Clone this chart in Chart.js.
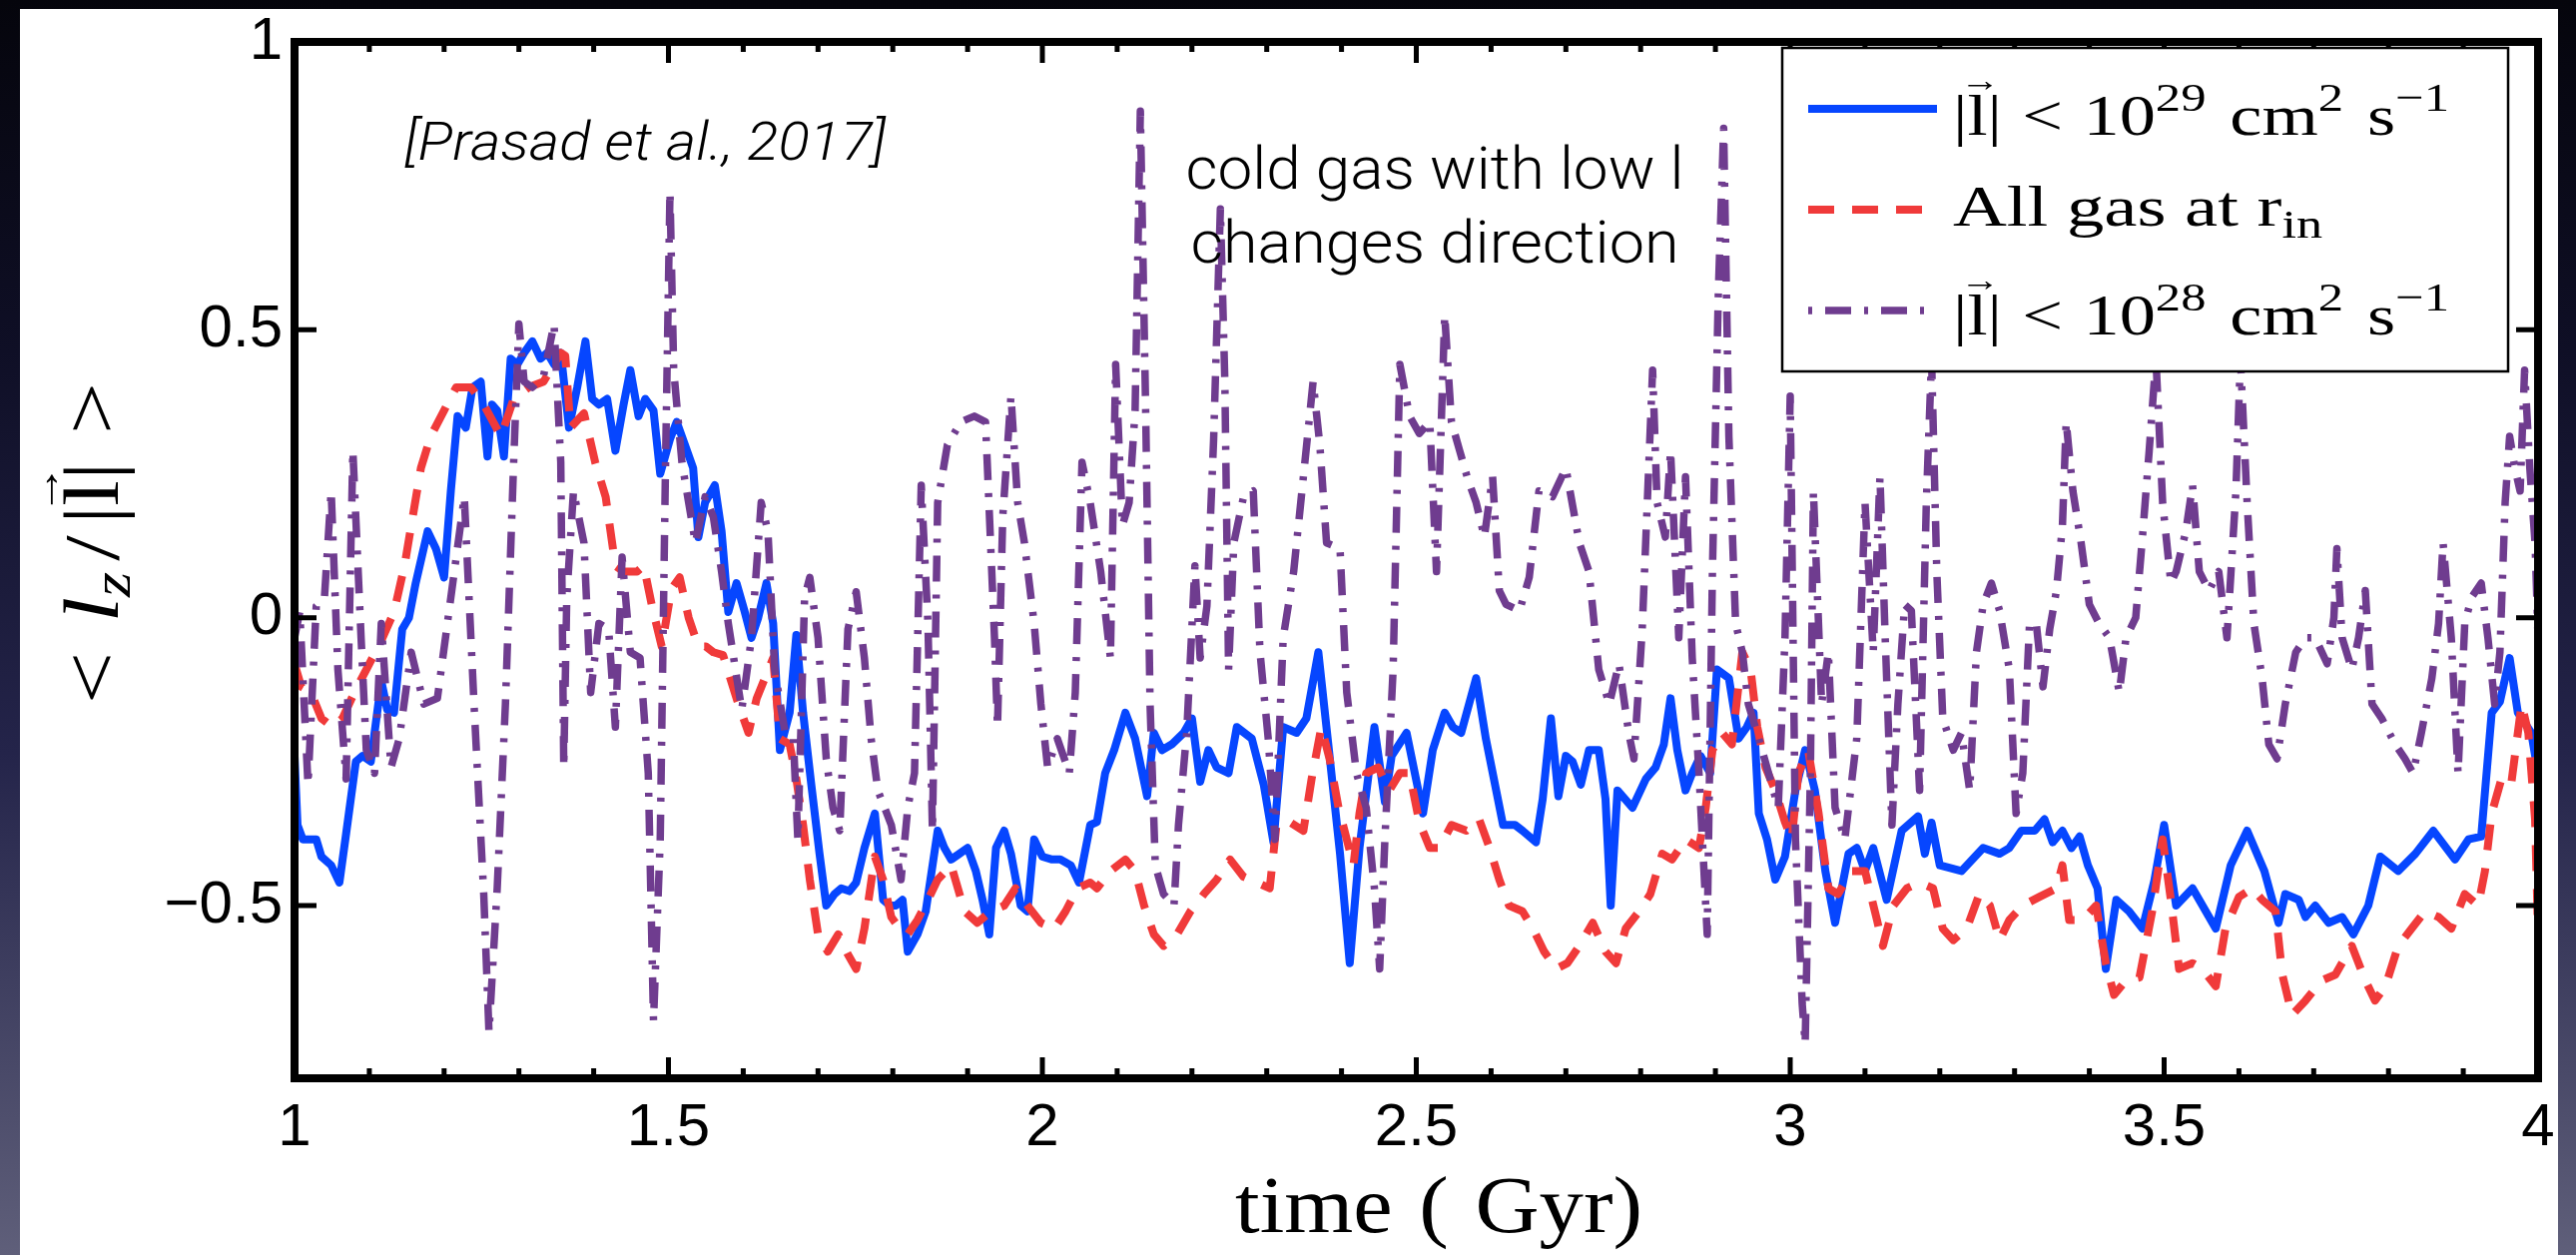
<!DOCTYPE html>
<html>
<head>
<meta charset="utf-8">
<title>Angular momentum orientation of inflowing gas</title>
<script src="https://cdn.jsdelivr.net/npm/chart.js@4.4.1/dist/chart.umd.min.js"></script>
<style>
  html, body { margin: 0; padding: 0; width: 2580px; height: 1257px; overflow: hidden; }
  body {
    position: relative;
    background: linear-gradient(180deg, #05050c 0%, #0f0f26 28%, #24244a 60%, #5f5f7a 100%);
  }
  #panel { position: absolute; left: 20px; top: 9px; width: 2542px; height: 1248px; background: #ffffff; }
  #chart { position: absolute; left: 0; top: 0; }
</style>
</head>
<body>
<div id="panel"></div>
<canvas id="chart" width="2580" height="1257" style="width:2580px;height:1257px"></canvas>
<script>
// ---- axis ranges and tick labels ----
const xMin = 1, xMax = 4, xMinorStep = 0.1;
const yMin = -0.8, yMax = 1;
const xTickValues = [1, 1.5, 2, 2.5, 3, 3.5, 4];
const xTickLabels = ['1', '1.5', '2', '2.5', '3', '3.5', '4'];
const yTickValues = [-0.5, 0, 0.5, 1];
const yTickLabels = ['\u22120.5', '0', '0.5', '1'];

// ---- <l_z/|l|> against time (Gyr), [time, value] ----
// gas with |l| < 1e29 cm^2 s^-1
const lowL29 = [
  [1.000,-0.24],[1.004,-0.36],[1.011,-0.385],[1.029,-0.385],[1.036,-0.415],[1.049,-0.43],[1.060,-0.46],[1.069,-0.375],
  [1.082,-0.25],[1.091,-0.24],[1.102,-0.25],[1.116,-0.11],[1.124,-0.16],[1.133,-0.165],[1.144,-0.02],[1.153,0.00],
  [1.162,0.06],[1.178,0.15],[1.189,0.12],[1.200,0.07],[1.209,0.22],[1.218,0.35],[1.229,0.33],[1.238,0.40],
  [1.249,0.41],[1.258,0.28],[1.264,0.37],[1.271,0.36],[1.280,0.28],[1.289,0.45],[1.298,0.44],[1.307,0.46],
  [1.318,0.48],[1.329,0.45],[1.338,0.46],[1.347,0.44],[1.356,0.46],[1.367,0.33],[1.378,0.40],[1.389,0.48],
  [1.398,0.38],[1.407,0.37],[1.418,0.38],[1.429,0.29],[1.440,0.37],[1.449,0.43],[1.460,0.35],[1.469,0.38],
  [1.480,0.36],[1.489,0.25],[1.502,0.31],[1.511,0.34],[1.522,0.30],[1.533,0.26],[1.540,0.14],[1.549,0.20],
  [1.562,0.23],[1.571,0.15],[1.580,0.01],[1.591,0.06],[1.602,0.01],[1.611,-0.035],[1.620,0.00],[1.631,0.06],
  [1.640,-0.01],[1.649,-0.23],[1.662,-0.165],[1.671,-0.03],[1.680,-0.165],[1.691,-0.29],[1.702,-0.41],[1.711,-0.50],
  [1.722,-0.48],[1.731,-0.47],[1.742,-0.475],[1.751,-0.46],[1.762,-0.40],[1.776,-0.34],[1.787,-0.49],[1.796,-0.50],
  [1.804,-0.50],[1.813,-0.49],[1.820,-0.58],[1.833,-0.55],[1.844,-0.51],[1.860,-0.37],[1.869,-0.40],[1.878,-0.42],
  [1.889,-0.41],[1.900,-0.40],[1.911,-0.44],[1.920,-0.49],[1.929,-0.55],[1.938,-0.40],[1.949,-0.37],[1.958,-0.41],
  [1.971,-0.50],[1.980,-0.51],[1.989,-0.385],[2.000,-0.415],[2.013,-0.42],[2.024,-0.42],[2.038,-0.43],[2.049,-0.46],
  [2.064,-0.36],[2.073,-0.355],[2.084,-0.27],[2.096,-0.23],[2.111,-0.165],[2.124,-0.21],[2.140,-0.31],[2.149,-0.20],
  [2.160,-0.23],[2.173,-0.22],[2.189,-0.20],[2.200,-0.175],[2.211,-0.285],[2.222,-0.23],[2.233,-0.26],[2.249,-0.27],
  [2.260,-0.19],[2.280,-0.21],[2.296,-0.29],[2.309,-0.39],[2.322,-0.19],[2.340,-0.20],[2.353,-0.175],[2.369,-0.06],
  [2.384,-0.24],[2.398,-0.41],[2.411,-0.60],[2.424,-0.40],[2.444,-0.19],[2.458,-0.32],[2.467,-0.24],[2.487,-0.20],
  [2.509,-0.34],[2.522,-0.23],[2.538,-0.165],[2.549,-0.19],[2.560,-0.20],[2.580,-0.105],[2.593,-0.21],[2.616,-0.36],
  [2.632,-0.36],[2.642,-0.37],[2.660,-0.39],[2.669,-0.315],[2.680,-0.175],[2.690,-0.31],[2.700,-0.24],[2.709,-0.25],
  [2.720,-0.29],[2.731,-0.23],[2.744,-0.23],[2.753,-0.315],[2.760,-0.50],[2.769,-0.30],[2.789,-0.33],[2.807,-0.28],
  [2.820,-0.26],[2.831,-0.22],[2.840,-0.14],[2.849,-0.23],[2.860,-0.30],[2.869,-0.27],[2.880,-0.24],[2.893,-0.27],
  [2.902,-0.09],[2.918,-0.105],[2.931,-0.21],[2.942,-0.19],[2.951,-0.165],[2.958,-0.34],[2.969,-0.385],[2.980,-0.455],
  [2.993,-0.415],[3.007,-0.30],[3.020,-0.23],[3.033,-0.30],[3.047,-0.44],[3.060,-0.53],[3.078,-0.41],[3.089,-0.40],
  [3.100,-0.44],[3.111,-0.40],[3.129,-0.49],[3.149,-0.37],[3.171,-0.345],[3.180,-0.41],[3.189,-0.356],[3.200,-0.43],
  [3.229,-0.44],[3.258,-0.40],[3.280,-0.41],[3.293,-0.40],[3.309,-0.37],[3.327,-0.37],[3.340,-0.35],[3.351,-0.39],
  [3.364,-0.37],[3.376,-0.40],[3.387,-0.38],[3.398,-0.43],[3.411,-0.47],[3.422,-0.61],[3.436,-0.49],[3.453,-0.51],
  [3.471,-0.54],[3.487,-0.456],[3.500,-0.36],[3.516,-0.50],[3.538,-0.47],[3.569,-0.54],[3.589,-0.43],[3.611,-0.37],
  [3.634,-0.44],[3.653,-0.53],[3.662,-0.48],[3.680,-0.49],[3.689,-0.52],[3.702,-0.50],[3.720,-0.53],[3.738,-0.52],
  [3.753,-0.55],[3.773,-0.50],[3.789,-0.415],[3.813,-0.44],[3.836,-0.41],[3.860,-0.37],[3.889,-0.42],[3.907,-0.385],
  [3.924,-0.38],[3.938,-0.165],[3.949,-0.146],[3.962,-0.07],[3.973,-0.165],[3.991,-0.20],[4.000,-0.27]
];

// all gas crossing r_in
const allGasRin = [
  [1.000,-0.08],[1.009,-0.12],[1.022,-0.13],[1.036,-0.175],[1.051,-0.19],[1.064,-0.175],[1.080,-0.13],[1.096,-0.09],
  [1.116,-0.04],[1.133,0.01],[1.147,0.09],[1.158,0.175],[1.169,0.26],[1.182,0.315],[1.200,0.36],[1.216,0.40],
  [1.236,0.40],[1.253,0.37],[1.276,0.315],[1.293,0.38],[1.313,0.40],[1.333,0.41],[1.356,0.46],[1.362,0.455],
  [1.369,0.33],[1.387,0.355],[1.402,0.27],[1.416,0.21],[1.429,0.09],[1.440,0.08],[1.458,0.08],[1.467,0.09],
  [1.478,0.02],[1.491,-0.05],[1.504,0.05],[1.515,0.07],[1.527,0.00],[1.540,-0.05],[1.550,-0.05],[1.560,-0.06],
  [1.573,-0.065],[1.591,-0.14],[1.607,-0.20],[1.618,-0.14],[1.629,-0.105],[1.640,-0.07],[1.649,-0.21],[1.662,-0.22],
  [1.671,-0.28],[1.680,-0.36],[1.689,-0.455],[1.700,-0.55],[1.713,-0.58],[1.727,-0.55],[1.740,-0.585],[1.751,-0.61],
  [1.762,-0.54],[1.776,-0.415],[1.787,-0.455],[1.798,-0.52],[1.809,-0.54],[1.820,-0.55],[1.833,-0.525],[1.847,-0.49],
  [1.860,-0.455],[1.878,-0.43],[1.896,-0.51],[1.913,-0.53],[1.931,-0.51],[1.949,-0.50],[1.964,-0.47],[1.980,-0.50],
  [1.998,-0.53],[2.016,-0.54],[2.031,-0.51],[2.047,-0.47],[2.064,-0.46],[2.073,-0.47],[2.091,-0.44],[2.111,-0.42],
  [2.124,-0.44],[2.136,-0.50],[2.149,-0.55],[2.162,-0.57],[2.180,-0.55],[2.198,-0.51],[2.216,-0.48],[2.233,-0.455],
  [2.251,-0.42],[2.269,-0.45],[2.287,-0.46],[2.304,-0.47],[2.313,-0.36],[2.331,-0.355],[2.349,-0.37],[2.360,-0.28],
  [2.373,-0.19],[2.384,-0.245],[2.396,-0.33],[2.407,-0.385],[2.416,-0.43],[2.424,-0.34],[2.433,-0.27],[2.449,-0.26],
  [2.464,-0.30],[2.478,-0.27],[2.491,-0.27],[2.504,-0.355],[2.518,-0.40],[2.531,-0.40],[2.547,-0.36],[2.567,-0.37],
  [2.584,-0.35],[2.598,-0.40],[2.611,-0.455],[2.624,-0.50],[2.642,-0.51],[2.656,-0.54],[2.671,-0.58],[2.687,-0.61],
  [2.702,-0.60],[2.718,-0.57],[2.736,-0.53],[2.753,-0.58],[2.767,-0.60],[2.780,-0.54],[2.798,-0.51],[2.813,-0.48],
  [2.829,-0.41],[2.842,-0.42],[2.860,-0.385],[2.878,-0.40],[2.887,-0.33],[2.896,-0.23],[2.909,-0.20],[2.922,-0.22],
  [2.936,-0.06],[2.947,-0.09],[2.956,-0.19],[2.967,-0.26],[2.980,-0.30],[2.993,-0.355],[3.002,-0.385],[3.011,-0.27],
  [3.024,-0.23],[3.038,-0.34],[3.051,-0.47],[3.064,-0.48],[3.082,-0.44],[3.100,-0.44],[3.116,-0.525],[3.124,-0.57],
  [3.138,-0.50],[3.156,-0.47],[3.173,-0.46],[3.191,-0.47],[3.204,-0.54],[3.218,-0.56],[3.236,-0.54],[3.253,-0.48],
  [3.267,-0.50],[3.280,-0.56],[3.293,-0.525],[3.311,-0.50],[3.333,-0.485],[3.356,-0.47],[3.364,-0.43],[3.373,-0.525],
  [3.391,-0.525],[3.409,-0.50],[3.422,-0.60],[3.433,-0.655],[3.449,-0.63],[3.467,-0.625],[3.484,-0.51],[3.498,-0.385],
  [3.509,-0.49],[3.520,-0.61],[3.538,-0.60],[3.551,-0.61],[3.569,-0.64],[3.582,-0.54],[3.600,-0.485],[3.618,-0.47],
  [3.631,-0.49],[3.649,-0.51],[3.658,-0.62],[3.671,-0.69],[3.689,-0.665],[3.711,-0.63],[3.729,-0.62],[3.751,-0.57],
  [3.769,-0.63],[3.782,-0.665],[3.796,-0.64],[3.813,-0.57],[3.831,-0.54],[3.849,-0.51],[3.867,-0.52],[3.884,-0.54],
  [3.902,-0.48],[3.920,-0.50],[3.929,-0.44],[3.938,-0.34],[3.951,-0.28],[3.964,-0.29],[3.978,-0.15],[3.987,-0.20],
  [3.996,-0.35],[4.000,-0.55]
];

// gas with |l| < 1e28 cm^2 s^-1
const lowL28 = [
  [1.000,-0.035],[1.007,0.01],[1.018,-0.29],[1.029,0.02],[1.040,0.035],[1.049,0.22],[1.058,-0.09],[1.069,-0.28],
  [1.078,0.29],[1.089,-0.035],[1.096,-0.23],[1.107,-0.27],[1.116,-0.01],[1.129,-0.26],[1.140,-0.21],[1.156,-0.06],
  [1.173,-0.15],[1.191,-0.14],[1.209,0.035],[1.227,0.21],[1.240,-0.15],[1.253,-0.48],[1.260,-0.72],[1.271,-0.47],
  [1.282,-0.15],[1.293,0.27],[1.300,0.51],[1.307,0.41],[1.318,0.40],[1.333,0.42],[1.347,0.51],[1.356,0.27],
  [1.360,-0.26],[1.364,0.035],[1.373,0.22],[1.387,0.13],[1.396,-0.13],[1.407,-0.01],[1.420,-0.02],[1.429,-0.19],
  [1.438,0.105],[1.449,-0.06],[1.462,-0.07],[1.473,-0.27],[1.480,-0.70],[1.489,-0.385],[1.496,0.26],[1.502,0.74],
  [1.507,0.43],[1.518,0.27],[1.527,0.20],[1.536,0.13],[1.549,0.21],[1.560,0.175],[1.571,0.08],[1.580,-0.01],
  [1.598,-0.16],[1.611,-0.035],[1.624,0.20],[1.633,0.15],[1.642,-0.09],[1.656,-0.20],[1.667,-0.21],[1.673,-0.385],
  [1.682,0.035],[1.689,0.07],[1.700,-0.035],[1.711,-0.245],[1.720,-0.33],[1.729,-0.37],[1.740,-0.02],[1.751,0.045],
  [1.762,-0.07],[1.771,-0.21],[1.780,-0.30],[1.789,-0.33],[1.798,-0.36],[1.811,-0.455],[1.820,-0.33],[1.829,-0.27],
  [1.838,0.23],[1.847,-0.01],[1.853,-0.37],[1.860,0.20],[1.873,0.30],[1.891,0.34],[1.909,0.35],[1.924,0.34],
  [1.936,-0.035],[1.940,-0.19],[1.947,0.175],[1.958,0.385],[1.967,0.20],[1.976,0.13],[1.989,-0.01],[1.998,-0.15],
  [2.007,-0.26],[2.020,-0.21],[2.036,-0.27],[2.044,-0.13],[2.053,0.27],[2.064,0.20],[2.078,0.08],[2.091,-0.07],
  [2.098,0.44],[2.107,0.16],[2.116,0.20],[2.124,0.36],[2.131,0.88],[2.138,0.37],[2.144,-0.15],[2.151,-0.43],
  [2.162,-0.48],[2.176,-0.50],[2.182,-0.36],[2.193,-0.20],[2.204,0.09],[2.211,-0.07],[2.220,0.02],[2.229,0.31],
  [2.238,0.71],[2.244,0.41],[2.249,-0.09],[2.256,0.13],[2.269,0.21],[2.282,0.22],[2.291,-0.06],[2.302,-0.21],
  [2.311,-0.385],[2.322,-0.035],[2.336,0.08],[2.351,0.27],[2.362,0.41],[2.371,0.30],[2.380,0.13],[2.398,0.12],
  [2.407,-0.13],[2.420,-0.27],[2.433,-0.33],[2.444,-0.47],[2.451,-0.61],[2.458,-0.385],[2.469,-0.09],[2.478,0.44],
  [2.491,0.35],[2.504,0.32],[2.518,0.34],[2.527,0.08],[2.538,0.525],[2.547,0.34],[2.558,0.29],[2.569,0.24],
  [2.580,0.20],[2.591,0.14],[2.602,0.245],[2.611,0.047],[2.620,0.023],[2.638,0.012],[2.651,0.07],[2.664,0.22],
  [2.682,0.21],[2.700,0.26],[2.718,0.13],[2.731,0.08],[2.744,-0.09],[2.758,-0.15],[2.771,-0.08],[2.784,-0.20],
  [2.791,-0.245],[2.802,-0.023],[2.816,0.43],[2.822,0.20],[2.833,0.14],[2.840,0.29],[2.851,-0.035],[2.860,0.245],
  [2.869,-0.07],[2.878,-0.27],[2.889,-0.55],[2.896,0.08],[2.904,0.57],[2.911,0.85],[2.918,0.315],[2.927,-0.01],
  [2.936,-0.06],[2.944,-0.15],[2.958,-0.21],[2.971,-0.27],[2.984,-0.33],[2.993,-0.035],[3.000,0.385],[3.007,-0.385],
  [3.016,-0.67],[3.020,-0.74],[3.027,-0.27],[3.031,0.22],[3.042,-0.15],[3.051,-0.06],[3.060,-0.33],[3.073,-0.385],
  [3.089,-0.21],[3.100,0.20],[3.111,-0.06],[3.120,0.245],[3.127,-0.035],[3.136,-0.36],[3.144,-0.15],[3.153,0.023],
  [3.162,0.012],[3.173,-0.30],[3.182,0.20],[3.189,0.45],[3.196,0.08],[3.204,-0.175],[3.218,-0.23],[3.229,-0.20],
  [3.240,-0.30],[3.249,-0.06],[3.258,0.023],[3.269,0.06],[3.280,0.012],[3.293,-0.09],[3.302,-0.34],[3.311,-0.27],
  [3.320,-0.01],[3.329,-0.01],[3.338,-0.12],[3.347,-0.02],[3.356,0.047],[3.364,0.16],[3.369,0.34],[3.378,0.22],
  [3.389,0.13],[3.400,0.023],[3.413,-0.01],[3.427,-0.035],[3.440,-0.13],[3.449,-0.035],[3.462,0.00],[3.471,0.14],
  [3.480,0.29],[3.489,0.45],[3.498,0.20],[3.509,0.06],[3.516,0.08],[3.529,0.15],[3.538,0.23],[3.547,0.08],
  [3.560,0.047],[3.573,0.08],[3.584,-0.035],[3.596,0.22],[3.602,0.45],[3.611,0.20],[3.620,-0.01],[3.631,-0.105],
  [3.640,-0.22],[3.651,-0.245],[3.662,-0.15],[3.676,-0.06],[3.689,-0.035],[3.702,-0.035],[3.718,-0.08],[3.727,0.00],
  [3.731,0.12],[3.738,-0.035],[3.751,-0.09],[3.760,-0.035],[3.769,0.047],[3.778,-0.15],[3.791,-0.175],[3.809,-0.22],
  [3.822,-0.245],[3.833,-0.27],[3.844,-0.20],[3.858,-0.105],[3.867,-0.01],[3.873,0.13],[3.884,-0.035],[3.893,-0.27],
  [3.902,-0.01],[3.911,0.035],[3.924,0.06],[3.933,-0.035],[3.942,-0.15],[3.949,-0.06],[3.956,0.20],[3.962,0.315],
  [3.969,0.26],[3.976,0.22],[3.982,0.43],[3.989,0.26],[3.996,0.13],[4.000,-0.035]
];

// ---- styling ----
const SANS = "'Liberation Sans', Arial, Helvetica, sans-serif";
const SERIF = "'Liberation Serif', 'DejaVu Serif', 'Times New Roman', serif";
const LIGHT = "Roboto, 'Open Sans', 'Liberation Sans', sans-serif";
const BLUE = '#0646ff', RED = '#f03a3a', PURPLE = '#6f3c8f';

const toPoints = rows => rows.map(([t, v]) => ({ x: t, y: v }));

// Draws a row of text pieces (italics, sub/superscripts, vector arrows) on one baseline,
// stretched horizontally to the requested width.
function drawRuns(ctx, runs, size, x, y, width) {
  const pieces = [];
  let w = 0;
  for (const r of runs) {
    const s = size * (r.sc || 1);
    const font = (r.it ? 'italic ' : '') + s + 'px ' + SERIF;
    ctx.font = font;
    const gap = (r.gap || 0) * size;
    const tw = ctx.measureText(r.t).width;
    pieces.push({ r, font, x: w + gap, tw });
    w += gap + tw;
  }
  const sx = width ? width / w : 1;
  ctx.save();
  ctx.translate(x, y);
  ctx.scale(sx, 1);
  ctx.fillStyle = '#000';
  ctx.textBaseline = 'alphabetic';
  for (const p of pieces) {
    ctx.font = p.font;
    ctx.textAlign = 'left';
    ctx.fillText(p.r.t, p.x, (p.r.dy || 0) * size);
    if (p.r.arrow) {
      ctx.font = (size * 0.55) + 'px ' + SERIF;
      ctx.textAlign = 'center';
      ctx.fillText('\u2192', p.x + p.tw / 2 + size * 0.04, -0.76 * size);
    }
  }
  ctx.restore();
}

function drawFitted(ctx, text, font, x, y, width, align) {
  ctx.save();
  ctx.font = font;
  ctx.fillStyle = '#000';
  ctx.textBaseline = 'alphabetic';
  ctx.textAlign = 'left';
  const w = ctx.measureText(text).width;
  const sx = width / w;
  const left = align === 'center' ? x - width / 2 : x;
  ctx.translate(left, y);
  ctx.scale(sx, 1);
  ctx.fillText(text, 0, 0);
  ctx.restore();
}

// Axes box with inward ticks on all four sides
const axesBox = {
  id: 'axesBox',
  afterDatasetsDraw(chart) {
    const { ctx, chartArea: a, scales: { x, y } } = chart;
    ctx.save();
    ctx.strokeStyle = '#000';
    ctx.lineCap = 'butt';
    ctx.lineWidth = 5;
    const n = Math.round((xMax - xMin) / xMinorStep);
    for (let i = 1; i < n; i++) {
      const v = xMin + i * xMinorStep;
      const px = x.getPixelForValue(v);
      const major = xTickValues.some(t => Math.abs(t - v) < 1e-6);
      const len = major ? 21 : 10;
      ctx.beginPath();
      ctx.moveTo(px, a.bottom); ctx.lineTo(px, a.bottom - len);
      ctx.moveTo(px, a.top); ctx.lineTo(px, a.top + len);
      ctx.stroke();
    }
    for (const v of yTickValues) {
      const py = y.getPixelForValue(v);
      ctx.beginPath();
      ctx.moveTo(a.left, py); ctx.lineTo(a.left + 22, py);
      ctx.moveTo(a.right, py); ctx.lineTo(a.right - 22, py);
      ctx.stroke();
    }
    ctx.lineWidth = 8;
    ctx.lineJoin = 'miter';
    ctx.strokeRect(a.left, a.top, a.right - a.left, a.bottom - a.top);
    ctx.restore();
  }
};

// Axis titles, notes and the legend
const legendRows = [
  [{ t: '|' }, { t: 'l', arrow: true }, { t: '|' }, { t: '<', gap: 0.28 }, { t: '10', gap: 0.28 },
   { t: '29', sc: 0.7, dy: -0.42 }, { t: 'cm', gap: 0.33 }, { t: '2', sc: 0.7, dy: -0.42 },
   { t: 's', gap: 0.33 }, { t: '\u22121', sc: 0.7, dy: -0.42 }],
  [{ t: 'All gas at r' }, { t: 'in', sc: 0.7, dy: 0.2 }],
  [{ t: '|' }, { t: 'l', arrow: true }, { t: '|' }, { t: '<', gap: 0.28 }, { t: '10', gap: 0.28 },
   { t: '28', sc: 0.7, dy: -0.42 }, { t: 'cm', gap: 0.33 }, { t: '2', sc: 0.7, dy: -0.42 },
   { t: 's', gap: 0.33 }, { t: '\u22121', sc: 0.7, dy: -0.42 }]
];
const legendWidths = [497, 370, 497];
const legendSampleY = [109, 210, 311];
const legendBaseY = [135, 226, 335];

const annotations = {
  id: 'annotations',
  afterDraw(chart) {
    const { ctx } = chart;

    // x title
    drawRuns(ctx, [{ t: 'time' }, { t: '(', gap: 0.3 }, { t: 'Gyr', gap: 0.3 }, { t: ')' }], 80, 1237, 1234, 408);

    // y title, rotated
    ctx.save();
    ctx.translate(118, 705);
    ctx.rotate(-Math.PI / 2);
    drawRuns(ctx, [
      { t: '<' }, { t: 'l', it: true, gap: 0.32 }, { t: 'z', it: true, sc: 0.7, dy: 0.15 },
      { t: '/', gap: 0.12 }, { t: '|', gap: 0.12 }, { t: 'l', arrow: true }, { t: '|' }, { t: '>', gap: 0.3 }
    ], 78, 0, 0, 322);
    ctx.restore();

    // notes inside the axes
    drawFitted(ctx, '[Prasad et al., 2017]', 'italic 300 53px ' + LIGHT, 405, 160, 482, 'left');
    drawFitted(ctx, 'cold gas with low l', '300 60px ' + LIGHT, 1437, 189, 499, 'center');
    drawFitted(ctx, 'changes direction', '300 60px ' + LIGHT, 1437, 263, 489, 'center');

    // legend
    ctx.save();
    ctx.fillStyle = '#fff';
    ctx.fillRect(1785, 48, 727, 324);
    ctx.strokeStyle = '#000';
    ctx.lineWidth = 2.5;
    ctx.strokeRect(1785, 48, 727, 324);
    chart.data.datasets.forEach((ds, row) => {
      ctx.save();
      ctx.strokeStyle = ds.borderColor;
      ctx.lineWidth = ds.borderWidth;
      ctx.setLineDash(ds.borderDash || []);
      ctx.lineDashOffset = ds.legendDashOffset || 0;
      ctx.lineCap = 'butt';
      ctx.beginPath();
      ctx.moveTo(1811, legendSampleY[row]);
      ctx.lineTo(row === 0 ? 1940 : 1934, legendSampleY[row]);
      ctx.stroke();
      ctx.restore();
      drawRuns(ctx, legendRows[row], 58, 1956, legendBaseY[row], legendWidths[row]);
    });
    ctx.restore();
  }
};

const tickFont = { family: SANS, size: 60, lineHeight: 1 };

new Chart(document.getElementById('chart'), {
  type: 'line',
  data: {
    datasets: [
      {
        label: '|l| < 1e29 cm^2 s^-1', data: toPoints(lowL29),
        borderColor: BLUE, borderWidth: 8, order: 3
      },
      {
        label: 'All gas at r_in', data: toPoints(allGasRin),
        borderColor: RED, borderWidth: 8, borderDash: [26, 18], order: 2
      },
      {
        label: '|l| < 1e28 cm^2 s^-1', data: toPoints(lowL28),
        borderColor: PURPLE, borderWidth: 7.5, borderDash: [26, 13, 4, 13], legendDashOffset: 39, order: 1
      }
    ]
  },
  options: {
    responsive: false,
    animation: false,
    devicePixelRatio: 1,
    layout: { padding: { left: 20, top: 30, right: 38, bottom: 0 } },
    plugins: { legend: { display: false }, tooltip: { enabled: false }, title: { display: false } },
    elements: {
      point: { radius: 0, hoverRadius: 0 },
      line: { tension: 0, borderJoinStyle: 'round', borderCapStyle: 'butt', fill: false }
    },
    scales: {
      x: {
        type: 'linear', min: xMin, max: xMax,
        grid: { display: false, drawTicks: false },
        border: { display: false },
        ticks: {
          font: tickFont, color: '#000', padding: 20, maxRotation: 0, autoSkip: false,
          callback: (v, i) => xTickLabels[i]
        },
        afterBuildTicks: s => { s.ticks = xTickValues.map(v => ({ value: v })); },
        afterFit: s => { s.height = 177; }
      },
      y: {
        type: 'linear', min: yMin, max: yMax,
        grid: { display: false, drawTicks: false },
        border: { display: false },
        ticks: {
          font: tickFont, color: '#000', padding: 12, autoSkip: false,
          callback: (v, i) => yTickLabels[i]
        },
        afterBuildTicks: s => { s.ticks = yTickValues.map(v => ({ value: v })); },
        afterFit: s => { s.width = 275; }
      }
    }
  },
  plugins: [axesBox, annotations]
});
</script>
</body>
</html>
